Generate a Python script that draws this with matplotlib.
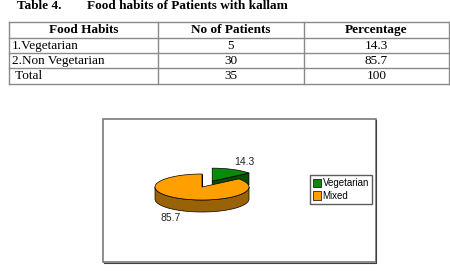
import numpy as np
import matplotlib

matplotlib.use("Agg")
import matplotlib.pyplot as plt
from matplotlib.patches import Polygon, Rectangle, Patch

# table data
TITLE_NO = "Table 4."
TITLE = "Food habits of Patients with kallam"
HEADERS = ["Food Habits", "No of Patients", "Percentage"]
HABITS = ["1.Vegetarian", "2.Non Vegetarian", " Total"]
PATIENTS = ["5", "30", "35"]
PERCENT = ["14.3", "85.7", "100"]

# pie data
PIE_LABELS = ["Vegetarian", "Mixed"]
PIE_VALUES = [14.3, 85.7]
TOP_COLORS = ["#0a8a0a", "#ff9f00"]
SIDE_COLORS = ["#034f03", "#9a6206"]

SERIF = "Liberation Serif"
SANS = "Liberation Sans"
LINE = "#8a8a8a"

fig = plt.figure(figsize=(4.5, 2.75), dpi=100)
ax = fig.add_axes([0, 0, 1, 1])
ax.set_xlim(0, 450)
ax.set_ylim(275, 0)
ax.axis("off")

# ---- title ----
ax.text(17, 9, TITLE_NO, family=SERIF, weight="bold", fontsize=9.5, va="baseline")
ax.text(87, 9, TITLE, family=SERIF, weight="bold", fontsize=9.5, va="baseline")

# ---- table ----
col_x = [9, 158, 304, 449]
row_y = [22, 37.5, 52.7, 68.2, 83.5]
for y in row_y:
    ax.plot([col_x[0], col_x[-1]], [y, y], color=LINE, lw=1.0)
for x in col_x:
    ax.plot([x, x], [row_y[0], row_y[-1]], color=LINE, lw=1.0)

for j, h in enumerate(HEADERS):
    ax.text((col_x[j] + col_x[j + 1]) / 2, (row_y[0] + row_y[1]) / 2 + 0.5, h,
            family=SERIF, weight="bold", fontsize=9.5, ha="center", va="center")
for i in range(len(HABITS)):
    yc = (row_y[i + 1] + row_y[i + 2]) / 2 + 0.5
    ax.text(col_x[0] + 3, yc, HABITS[i], family=SERIF, fontsize=9.5, va="center")
    ax.text((col_x[1] + col_x[2]) / 2, yc, PATIENTS[i], family=SERIF,
            fontsize=9.5, ha="center", va="center")
    ax.text((col_x[2] + col_x[3]) / 2, yc, PERCENT[i], family=SERIF,
            fontsize=9.5, ha="center", va="center")

# ---- chart box ----
ax.add_patch(Rectangle((103, 119), 273, 143, fill=False, ec="#7a7a7a", lw=1.2))
ax.plot([104, 376, 376], [262.5, 262.5, 120], color="#404040", lw=0.8)

# ---- 3D pie ----
cx, cy, rx, ry, depth = 202, 187, 47, 13, 12
explode = [0.5, 0.0]
fracs = np.array(PIE_VALUES) / sum(PIE_VALUES)
ends = 90 - 360 * np.cumsum(fracs)
starts = np.concatenate([[90], ends[:-1]])


def pt(a, ox, oy, dz=0.0):
    r = np.radians(a)
    return cx + ox + rx * np.cos(r), cy + oy - ry * np.sin(r) + dz


slices = []
for k in range(len(PIE_VALUES)):
    mid = (starts[k] + ends[k]) / 2
    ox = explode[k] * rx * np.cos(np.radians(mid))
    oy = -explode[k] * ry * np.sin(np.radians(mid))
    slices.append((starts[k], ends[k], mid, ox, oy))

# back (exploded) slice first so the big slice overlaps it
for k in [0, 1]:
    a0, a1, mid, ox, oy = slices[k]
    arc = np.linspace(a0, a1, 120)
    c0 = (cx + ox, cy + oy)
    # radial wall at the end angle
    p_end = pt(a1, ox, oy)
    wall = [c0, p_end, pt(a1, ox, oy, depth), (c0[0], c0[1] + depth)]
    ax.add_patch(Polygon(wall, closed=True, fc=SIDE_COLORS[k], ec="black", lw=0.5))
    # outer side, front half only
    s = np.mod(arc, 360)
    front = arc[(s > 180) & (s < 360)]
    if len(front) > 1:
        top = [pt(a, ox, oy) for a in front]
        bot = [pt(a, ox, oy, depth) for a in front[::-1]]
        ax.add_patch(Polygon(top + bot, closed=True, fc=SIDE_COLORS[k],
                             ec="black", lw=0.5))
    # top face
    face = [c0] + [pt(a, ox, oy) for a in arc]
    ax.add_patch(Polygon(face, closed=True, fc=TOP_COLORS[k], ec="black", lw=0.5))

# value labels
for k in range(len(PIE_VALUES)):
    a0, a1, mid, ox, oy = slices[k]
    r = np.radians(mid)
    lx = cx + ox + 1.55 * rx * np.cos(r)
    ly = cy + oy - 1.65 * ry * np.sin(r) + (depth if np.sin(r) < 0 else 0)
    ax.text(lx, ly, f"{PIE_VALUES[k]:.1f}", family=SANS, fontsize=7.5,
            ha="center", va="center", color="#222222")

# legend
handles = [Patch(fc=TOP_COLORS[k], ec="black", lw=0.5) for k in range(len(PIE_LABELS))]
fig.legend(handles, PIE_LABELS, loc="upper left",
           bbox_to_anchor=(310 / 450, 1 - 175 / 275),
           prop={"family": SANS, "size": 7.0}, frameon=True, fancybox=False,
           edgecolor="#333333", handlelength=0.8, handleheight=0.9,
           handletextpad=0.2, borderpad=0.3, labelspacing=0.3,
           borderaxespad=0)

fig.savefig("out.png", dpi=100)
